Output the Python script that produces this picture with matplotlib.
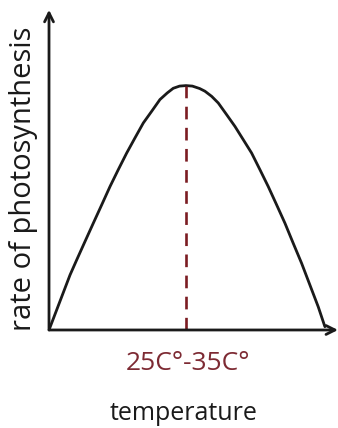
import matplotlib.pyplot as plt

# temperature (arbitrary units, optimum at 30) vs rate of photosynthesis (peak = 100)
temperature = [0, 4.60, 6.07, 7.88, 9.70, 11.54, 13.36, 15.17, 17.01, 18.83,
               20.65, 22.49, 24.30, 25.90, 27.21, 28.60, 30.0,
               31.40, 33.00, 34.16, 35.63, 37.07, 38.91, 40.73, 42.54, 44.38, 46.20,
               48.02, 49.86, 51.68, 53.49, 55.33, 57.15, 58.97, 60.43]
rate = [0, 22.5, 28.7, 36.2, 43.7, 51.2, 58.7, 65.6, 72.4, 78.6,
        84.7, 89.5, 94.3, 97.0, 98.9, 99.8, 100.0,
        99.8, 98.8, 97.7, 95.6, 92.9, 88.1, 83.3, 77.9, 72.4, 65.6,
        58.7, 51.2, 43.7, 35.5, 27.3, 18.4, 9.5, 1.35]
optimum = 30.0
optimum_label = "25C°-35C°"
x_label = "temperature"
y_label = "rate of photosynthesis"

plt.rcParams['font.family'] = ['Open Sans', 'DejaVu Sans']

fig = plt.figure(figsize=(3.38, 4.28), dpi=100)
ax = fig.add_axes([0.145, 0.229, 0.855, 0.748])

ax.plot(temperature, rate, color='#1a1a1a', lw=2.0,
        solid_capstyle='round', solid_joinstyle='round')
ax.plot([optimum, optimum], [0, max(rate)], color='#7b1c22', lw=1.9,
        dashes=(4.8, 3.2))

ax.set_xlim(0, 63.3)
ax.set_ylim(0, 131)
ax.set_xticks([])
ax.set_yticks([])
for s in ['top', 'right', 'left', 'bottom']:
    ax.spines[s].set_visible(False)

# axis arrows
ax.annotate('', xy=(1.0, 0), xytext=(0, 0), xycoords='axes fraction',
            arrowprops=dict(arrowstyle='->', lw=2.0, color='#1a1a1a',
                            mutation_scale=16, shrinkA=0, shrinkB=0))
ax.annotate('', xy=(0, 1.0), xytext=(0, 0), xycoords='axes fraction',
            arrowprops=dict(arrowstyle='->', lw=2.0, color='#1a1a1a',
                            mutation_scale=16, shrinkA=0, shrinkB=0))

ax.text(optimum + 0.4, -16.4, optimum_label, ha='center', va='baseline',
        fontsize=19, color='#7d2a33')
ax.text(optimum - 0.5, -36.9, x_label, ha='center', va='baseline',
        fontsize=18, color='#1a1a1a')
ax.text(-5.5, 62, y_label, ha='center', va='center', rotation=90,
        fontsize=21, color='#1a1a1a')

fig.savefig('out.png', dpi=100)
